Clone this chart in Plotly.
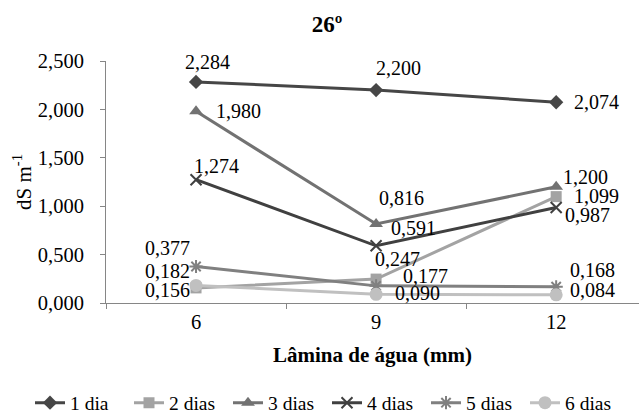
import plotly.graph_objects as go

categories = ["6", "9", "12"]
series_names = ["1 dia", "2 dias", "3 dias", "4 dias", "5 dias", "6 dias"]
dia1 = [2.284, 2.200, 2.074]
dias2 = [0.156, 0.247, 1.099]
dias3 = [1.980, 0.816, 1.200]
dias4 = [1.274, 0.591, 0.987]
dias5 = [0.377, 0.177, 0.168]
dias6 = [0.182, 0.090, 0.084]
y_ticks = [0.0, 0.5, 1.0, 1.5, 2.0, 2.5]

values = [dia1, dias2, dias3, dias4, dias5, dias6]
colors = ["#464646", "#a3a3a3", "#727272", "#404040", "#808080", "#c0c0c0"]
symbols = ["diamond", "square", "triangle-up", "x-thin-open", "asterisk-open", "circle"]
msizes = [11, 11, 12, 11, 11, 13]
# label offsets (px) per series / point
label_shift = [
    [(11, 20), (22, 22), (40, 0)],
    [(-29, -2), (21, 20), (40, 1)],
    [(42, 0), (25, 26), (29, 10)],
    [(20, 14), (37, 18), (31, -8)],
    [(-29, 19), (49, 10), (36, 17)],
    [(-29, 14), (41, 1), (36, 5)],
]

FONT = "Liberation Serif"
fig = go.Figure()
for name, vals, col, sym, ms, shifts in zip(series_names, values, colors, symbols, msizes, label_shift):
    open_sym = sym.endswith("open")
    fig.add_trace(go.Scatter(
        x=categories, y=vals, name=name, mode="lines+markers",
        line=dict(color=col, width=3),
        marker=dict(symbol=sym, size=ms, color=col,
                    line=dict(color=col, width=2 if open_sym else 0)),
    ))
    for i, (v, (dx, dy)) in enumerate(zip(vals, shifts)):
        fig.add_annotation(
            x=i, y=v, xref="x", yref="y", text=f"{v:.3f}".replace(".", ","),
            showarrow=False, xshift=dx, yshift=dy,
            font=dict(family=FONT, size=20, color="#000000"),
        )

fig.update_layout(
    width=639, height=417,
    margin=dict(l=106, r=0, t=61, b=114, autoexpand=False),
    paper_bgcolor="white", plot_bgcolor="white",
    separators=",.",
    font=dict(family=FONT, size=20, color="#000000"),
    title=dict(text="<b>26º</b>", x=327/639, xanchor="center", xref="container",
               y=1 - 24/417, yanchor="middle", yref="container",
               font=dict(family=FONT, size=23, color="#000000")),
    showlegend=True,
    legend=dict(orientation="h", xref="paper", yref="paper",
                x=(30 - 106) / 533, xanchor="left", y=-(403 - 303) / 242, yanchor="middle",
                font=dict(family=FONT, size=19.5, color="#000000"),
                entrywidth=54, entrywidthmode="pixels", itemwidth=30,
                tracegroupgap=0),
)
fig.update_xaxes(
    type="category", range=[-0.5, 2.46], tickson="boundaries",
    ticks="outside", ticklen=5, tickcolor="#868686", automargin=False,
    showline=True, linecolor="#868686", linewidth=1,
    showgrid=False, zeroline=False,
    tickfont=dict(family=FONT, size=20.5),
    title=dict(text="<b>Lâmina de água (mm)</b>", font=dict(family=FONT, size=21), standoff=15),
)
fig.update_yaxes(
    range=[0, 2.5], tickvals=y_ticks, tickformat=".3f",
    ticks="outside", ticklen=5, tickcolor="#868686", ticklabelstandoff=12,
    automargin=False,
    showline=True, linecolor="#868686", linewidth=1,
    showgrid=False, zeroline=False,
    tickfont=dict(family=FONT, size=20.5),
    title=dict(text="dS m<sup>-1</sup>", font=dict(family=FONT, size=21), standoff=0),
)
fig.write_html("out.html", config={"displayModeBar": False},
               post_script="document.body.style.margin='0';document.body.style.overflow='hidden';")
